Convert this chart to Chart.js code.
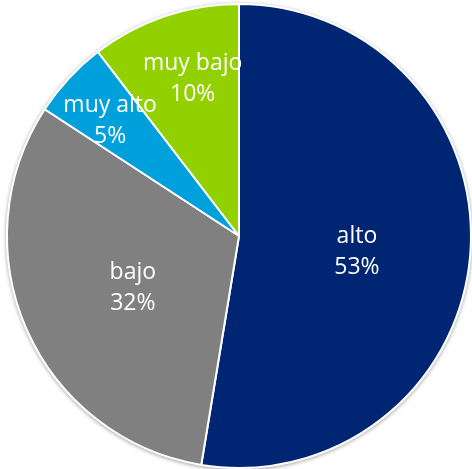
<!DOCTYPE html>
<html>
<head>
<meta charset="utf-8">
<script src="https://cdn.jsdelivr.net/npm/chart.js@4.4.1/dist/chart.umd.min.js"></script>
<style>
html,body{margin:0;padding:0;background:#fff;}
#wrap{width:472px;height:469px;position:relative;}
</style>
</head>
<body>
<div id="wrap"><canvas id="c"></canvas></div>
<script>
const categories = ['alto', 'bajo', 'muy alto', 'muy bajo'];
const values = [52.6, 31.6, 5.4, 10.4];
const percentLabels = ['53%', '32%', '5%', '10%'];
const colors = ['#002673', '#808080', '#00A0DC', '#92D000'];

// label placement (fraction of radius, extra pixel nudge)
const labelRadius = [0.51, 0.50, 0.74, 0.73];
const labelNudge = [[0, 5], [0, 4], [-3, 0], [8, 2]];

const shadowPlugin = {
  id: 'shadowPlugin',
  beforeDatasetsDraw(chart) {
    const arc = chart.getDatasetMeta(0).data[0];
    if (!arc) return;
    const p = arc.getProps(['x', 'y', 'outerRadius'], true);
    const ctx = chart.ctx;
    ctx.save();
    ctx.shadowColor = 'rgba(0,0,0,0.45)';
    ctx.shadowBlur = 4;
    ctx.shadowOffsetX = 0;
    ctx.shadowOffsetY = 1;
    ctx.beginPath();
    ctx.arc(p.x, p.y, p.outerRadius + 0.5, 0, Math.PI * 2);
    ctx.fillStyle = '#ffffff';
    ctx.fill();
    ctx.restore();
  }
};

const labelPlugin = {
  id: 'labelPlugin',
  afterDatasetsDraw(chart) {
    const ctx = chart.ctx;
    const meta = chart.getDatasetMeta(0);
    ctx.save();
    ctx.fillStyle = '#ffffff';
    ctx.textAlign = 'center';
    ctx.textBaseline = 'middle';
    ctx.font = '500 23px "Open Sans", "Noto Sans", sans-serif';
    meta.data.forEach((arc, i) => {
      const p = arc.getProps(['x', 'y', 'startAngle', 'endAngle', 'outerRadius'], true);
      const mid = (p.startAngle + p.endAngle) / 2;
      const r = p.outerRadius * labelRadius[i];
      const cx = p.x + Math.cos(mid) * r + labelNudge[i][0];
      const cy = p.y + Math.sin(mid) * r + labelNudge[i][1];
      ctx.fillText(categories[i], cx, cy - 14);
      ctx.fillText(percentLabels[i], cx, cy + 17);
    });
    ctx.restore();
  }
};

new Chart(document.getElementById('c'), {
  type: 'pie',
  data: {
    labels: categories,
    datasets: [{
      data: values,
      backgroundColor: colors,
      borderColor: '#ffffff',
      borderWidth: 2
    }]
  },
  options: {
    responsive: true,
    maintainAspectRatio: false,
    animation: false,
    layout: { padding: { left: 6, top: 3, right: 0, bottom: 0 } },
    plugins: {
      legend: { display: false },
      tooltip: { enabled: false }
    }
  },
  plugins: [shadowPlugin, labelPlugin]
});
</script>
</body>
</html>
